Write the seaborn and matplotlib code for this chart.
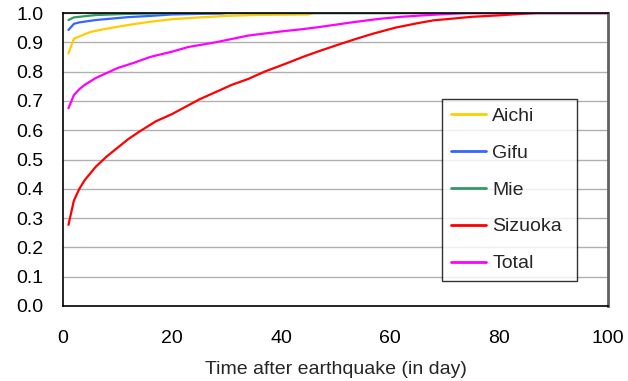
import matplotlib
matplotlib.use("Agg")
import matplotlib.pyplot as plt
import seaborn as sns
import pandas as pd

aichi_days = [1, 2, 3, 5, 7, 10, 13, 16, 20, 25, 30, 35, 45, 46, 100]
aichi_vals = [0.862, 0.912, 0.92, 0.935, 0.943, 0.953, 0.962, 0.97, 0.979, 0.985, 0.99, 0.993, 0.995, 1.0, 1.0]

gifu_days = [1, 2, 3, 6, 9, 12, 16, 20, 25, 29, 30, 100]
gifu_vals = [0.942, 0.963, 0.968, 0.976, 0.981, 0.986, 0.99, 0.995, 0.997, 0.998, 1.0, 1.0]

mie_days = [1, 2, 4, 6, 9, 12, 16, 20, 100]
mie_vals = [0.976, 0.985, 0.989, 0.993, 0.995, 0.997, 0.998, 1.0, 1.0]

siz_days = [1, 2, 3, 4, 6, 8, 10, 12, 14, 17, 20, 23, 25, 28, 31, 34, 37, 41, 44, 47,
            51, 54, 57, 61, 65, 68, 71, 75, 80, 85, 87, 100]
siz_vals = [0.277, 0.36, 0.40, 0.43, 0.475, 0.51, 0.54, 0.57, 0.595, 0.63, 0.655, 0.685,
            0.705, 0.73, 0.755, 0.775, 0.80, 0.828, 0.85, 0.87, 0.895, 0.913, 0.93, 0.95,
            0.965, 0.975, 0.98, 0.987, 0.992, 0.998, 1.0, 1.0]

tot_days = [1, 2, 3, 4, 6, 8, 10, 13, 16, 20, 23, 28, 34, 40, 44, 47, 53, 58, 62, 67, 72, 74, 100]
tot_vals = [0.675, 0.72, 0.74, 0.755, 0.778, 0.795, 0.812, 0.83, 0.85, 0.868, 0.884, 0.90,
            0.923, 0.937, 0.945, 0.952, 0.968, 0.98, 0.987, 0.993, 0.998, 1.0, 1.0]

series = ["Aichi", "Gifu", "Mie", "Sizuoka", "Total"]
colors = ["#FFCC00", "#3366FF", "#339966", "#FF0000", "#FF00FF"]

frames = []
for name, d, v in [("Aichi", aichi_days, aichi_vals), ("Gifu", gifu_days, gifu_vals),
                   ("Mie", mie_days, mie_vals), ("Sizuoka", siz_days, siz_vals),
                   ("Total", tot_days, tot_vals)]:
    frames.append(pd.DataFrame({"day": d, "value": v, "region": name}))
df = pd.concat(frames, ignore_index=True)

sns.set_style("white")
plt.rcParams['font.family'] = ['Liberation Sans', 'DejaVu Sans']

fig = plt.figure(figsize=(6.28, 3.81), dpi=100)
ax = fig.add_axes([63/628, 1-306/381, 545/628, 293/381])

sns.lineplot(data=df, x="day", y="value", hue="region", hue_order=series,
             palette=colors, linewidth=1.6, ax=ax, legend=True)

ax.set_xlim(0, 100)
ax.set_ylim(0, 1.0)
ax.set_xticks([0, 20, 40, 60, 80, 100])
ax.set_yticks([i/10 for i in range(11)])
ax.set_yticklabels([f"{i/10:.1f}" for i in range(11)])
ax.yaxis.grid(True, color="#b0b0b0", linewidth=1.0)
ax.set_axisbelow(True)
ax.tick_params(axis="both", direction="in", length=4, width=1, labelsize=14, colors="black")
ax.tick_params(axis="x", pad=17)
ax.tick_params(axis="y", pad=14)
ax.set_xlabel("Time after earthquake (in day)", fontsize=14, labelpad=10)
ax.set_ylabel("")

for s in ["left", "bottom", "top"]:
    ax.spines[s].set_color("black")
    ax.spines[s].set_linewidth(1.2)
ax.spines["right"].set_color("#606060")
ax.spines["right"].set_linewidth(2)

leg = ax.legend(loc="lower left", bbox_to_anchor=(0.695, 0.085, 0.248, 0.625), mode="expand",
                fontsize=14, frameon=True, fancybox=False, edgecolor="black",
                handlelength=1.85, handletextpad=0.3, labelspacing=0.99, borderpad=0.45,
                borderaxespad=0)
leg.get_frame().set_linewidth(1.0)
for line in leg.get_lines():
    line.set_linewidth(2)

fig.savefig("out.png", dpi=100)
